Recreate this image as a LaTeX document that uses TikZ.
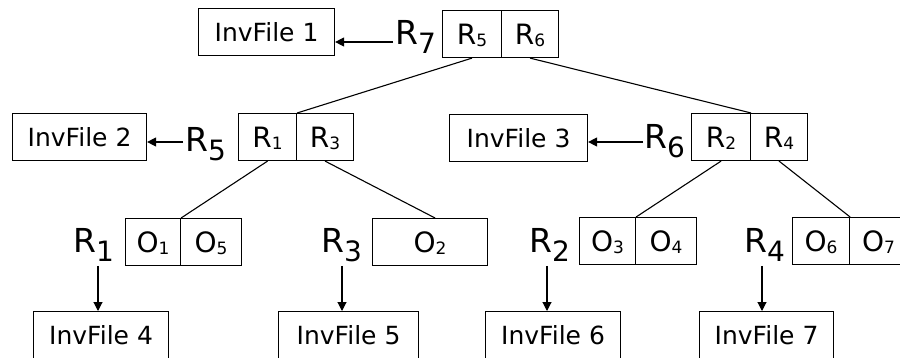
\documentclass[tikz,border=0pt]{standalone}
\usepackage{fontspec}
\setmainfont{DejaVu Sans}
\usetikzlibrary{arrows.meta}
\tikzset{
  filebox/.style={draw=black, line width=1.1pt, minimum height=47pt, inner sep=0pt,
    font=\fontsize{25}{25}\selectfont, anchor=north west},
  cell/.style={draw=black, line width=1.1pt, minimum height=47pt, inner sep=0pt,
    text height=20.5pt, text depth=0pt,
    font=\fontsize{28}{28}\selectfont, anchor=north west},
  lab/.style={inner sep=0pt, anchor=base west, font=\fontsize{33}{33}\selectfont},
  arr/.style={-{Triangle[length=9pt,width=9pt]}, line width=1.1pt},
  edge/.style={line width=1.1pt}
}
\newcommand\Rlab[1]{R\raisebox{-9pt}{\fontsize{28}{28}\selectfont #1}}
\newcommand\Sb[1]{\raisebox{-2pt}{\fontsize{17}{17}\selectfont #1}}
\begin{document}
\begin{tikzpicture}[x=1pt,y=-1pt]
\useasboundingbox (0,0) rectangle (900,358);
% level 0
\node[filebox, minimum width=136pt] (inv1) at (198,8) {InvFile 1};
\node[lab] (l7) at (395,45) {\Rlab{7}};
\node[cell, minimum width=59pt] (rA) at (442,10) {R\Sb{5}};
\node[cell, minimum width=57pt] (rB) at (501,10) {R\Sb{6}};
% level 1
\node[filebox, minimum width=134pt] (inv2) at (12,113) {InvFile 2};
\node[lab] (l5) at (185,152) {\Rlab{5}};
\node[cell, minimum width=58pt] (c1) at (238,113) {R\Sb{1}};
\node[cell, minimum width=57pt] (c3) at (296,113) {R\Sb{3}};
\node[filebox, minimum width=138pt] (inv3) at (449,114) {InvFile 3};
\node[lab] (l6) at (644,149) {\Rlab{6}};
\node[cell, minimum width=59pt] (c2) at (691,113) {R\Sb{2}};
\node[cell, minimum width=57pt] (c4) at (750,113) {R\Sb{4}};
% level 2
\node[lab] (l1) at (73,253) {\Rlab{1}};
\node[cell, minimum width=55pt] (o1) at (125,218) {O\Sb{1}};
\node[cell, minimum width=61pt] (o5) at (180,218) {O\Sb{5}};
\node[lab] (l3) at (321,253) {\Rlab{3}};
\node[cell, minimum width=115pt] (o2) at (372,218) {O\Sb{2}};
\node[lab] (l2) at (529,253) {\Rlab{2}};
\node[cell, minimum width=56pt] (o3) at (579,217) {O\Sb{3}};
\node[cell, minimum width=61pt] (o4) at (635,217) {O\Sb{4}};
\node[lab] (l4) at (744,253) {\Rlab{4}};
\node[cell, minimum width=57pt] (o6) at (792,217) {O\Sb{6}};
\node[cell, minimum width=58pt] (o7) at (849,217) {O\Sb{7}};
% level 3
\node[filebox, minimum width=135pt, minimum height=48pt] (inv4) at (33,311) {InvFile 4};
\node[filebox, minimum width=140pt, minimum height=48pt] (inv5) at (278,311) {InvFile 5};
\node[filebox, minimum width=135pt, minimum height=48pt] (inv6) at (485,311) {InvFile 6};
\node[filebox, minimum width=134pt, minimum height=48pt] (inv7) at (699,311) {InvFile 7};
% tree edges
\draw[edge] (rA.south) -- (c1.north east);
\draw[edge] (rB.south) -- (c2.north east);
\draw[edge] (c1.south) -- (o1.north east);
\draw[edge] (c3.south) -- ([xshift=5pt]o2.north);
\draw[edge] (c2.south) -- (o3.north east);
\draw[edge] (c4.south) -- (o6.north east);
% horizontal arrows
\coordinate (a7) at (393,42);
\coordinate (a5) at (183,142);
\coordinate (a6) at (643,142);
\draw[arr] (a7) -- (a7 -| inv1.east);
\draw[arr] (a5) -- (a5 -| inv2.east);
\draw[arr] (a6) -- (a6 -| inv3.east);
% vertical arrows
\coordinate (b1) at (98,266);
\coordinate (b3) at (342,266);
\coordinate (b2) at (547,266);
\coordinate (b4) at (762,266);
\draw[arr] (b1) -- (b1 |- inv4.north);
\draw[arr] (b3) -- (b3 |- inv5.north);
\draw[arr] (b2) -- (b2 |- inv6.north);
\draw[arr] (b4) -- (b4 |- inv7.north);
\end{tikzpicture}
\end{document}
